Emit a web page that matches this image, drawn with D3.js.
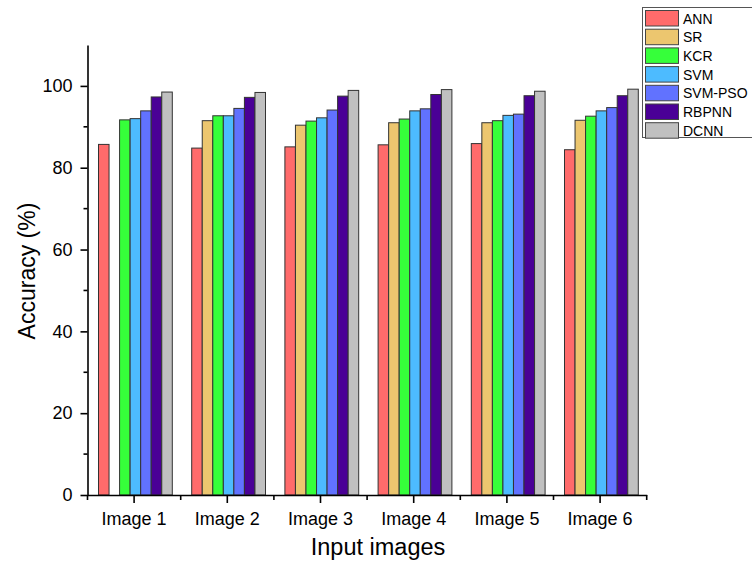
<!DOCTYPE html>
<html><head><meta charset="utf-8">
<script src="https://cdn.jsdelivr.net/npm/d3@7"></script>
<style>body{margin:0;background:#fff;} text{font-family:"Liberation Sans",Arial,sans-serif;}</style>
</head><body>
<svg id="c" width="752" height="563"></svg>
<script>
const categories = ["Image 1","Image 2","Image 3","Image 4","Image 5","Image 6"];
const seriesNames = ["ANN","SR","KCR","SVM","SVM-PSO","RBPNN","DCNN"];
const colors = ["#ff6b6b","#ecc66f","#36ff3a","#4dbbff","#6172ff","#4a0096","#c0c0c0"];
const ANN     = [85.7, 84.8, 85.1, 85.6, 85.9, 84.4];
const SR      = [0,    91.5, 90.4, 91.0, 91.0, 91.6];
const KCR     = [91.7, 92.7, 91.4, 91.9, 91.5, 92.6];
const SVM     = [92.0, 92.7, 92.2, 93.9, 92.8, 93.9];
const SVMPSO  = [93.9, 94.5, 94.1, 94.4, 93.1, 94.7];
const RBPNN   = [97.3, 97.2, 97.5, 97.9, 97.6, 97.6];
const DCNN    = [98.5, 98.4, 98.9, 99.1, 98.7, 99.2];
const yTicks = [0,20,40,60,80,100];
const yMinor = [10,30,50,70,90];
const series = [ANN,SR,KCR,SVM,SVMPSO,RBPNN,DCNN];

(function(){
const svg = d3.select("#c");
const mL = 87.5, mR = 646.7, mT = 45, mB = 495;
const x = d3.scaleBand().domain(categories).range([mL,mR]).paddingInner(0).paddingOuter(0);
const inner = d3.scaleBand().domain(seriesNames).range([11, 11+73.8]).paddingOuter(0).paddingInner(0);
const y = d3.scaleLinear().domain([0,110]).range([mB,mT]);

categories.forEach((c,ci)=>{
  seriesNames.forEach((s,si)=>{
    const v = series[si][ci];
    if(!v) return;
    svg.append("rect")
      .attr("x", x(c)+inner(s))
      .attr("y", y(v))
      .attr("width", inner.bandwidth())
      .attr("height", y(0)-y(v))
      .attr("fill", colors[si])
      .attr("stroke","#333").attr("stroke-width",1);
  });
});

const yAxis = d3.axisLeft(y).tickValues(yTicks).tickSize(7).tickPadding(8).tickSizeOuter(0);
const gy = svg.append("g").attr("transform",`translate(${mL},0)`).call(yAxis);
gy.selectAll("text").attr("font-size","18px").attr("fill","#000");
gy.select(".domain").attr("stroke-width",1.6);
gy.selectAll(".tick line").attr("stroke-width",1.6);
yMinor.forEach(v=>svg.append("line").attr("x1",mL-4).attr("x2",mL).attr("y1",y(v)).attr("y2",y(v)).attr("stroke","#000").attr("stroke-width",1.6));

const xAxis = d3.axisBottom(x).tickSize(8).tickPadding(0).tickSizeOuter(0);
const gx = svg.append("g").attr("transform",`translate(0,${mB})`).call(xAxis);
gx.selectAll("text").attr("font-size","18px").attr("fill","#000").attr("dy",null).attr("y",30);
gx.select(".domain").attr("stroke-width",1.6);
gx.selectAll(".tick line").attr("stroke-width",1.6);
categories.forEach((c,i)=>{ svg.append("line").attr("x1",x(c)).attr("x2",x(c)).attr("y1",mB).attr("y2",mB+5).attr("stroke","#000").attr("stroke-width",1.6); });
svg.append("line").attr("x1",mR).attr("x2",mR).attr("y1",mB).attr("y2",mB+5).attr("stroke","#000").attr("stroke-width",1.6);

svg.append("text").attr("x",378).attr("y",555).attr("text-anchor","middle").attr("font-size","23.5px").text("Input images");
svg.append("text").attr("transform","translate(35,271) rotate(-90)").attr("text-anchor","middle").attr("font-size","23px").text("Accuracy (%)");

const lg = svg.append("g");
lg.append("rect").attr("x",642.5).attr("y",7.5).attr("width",120).attr("height",130).attr("fill","#fff").attr("stroke","#555").attr("stroke-width",1);
seriesNames.forEach((s,i)=>{
  const yy = 10 + i*18.7;
  lg.append("rect").attr("x",645.5).attr("y",yy+0.5).attr("width",33).attr("height",15.5).attr("fill",colors[i]).attr("stroke","#444").attr("stroke-width",1);
  lg.append("text").attr("x",683).attr("y",yy+13.5).attr("font-size","14px").text(s);
});
})();
</script>
</body></html>
